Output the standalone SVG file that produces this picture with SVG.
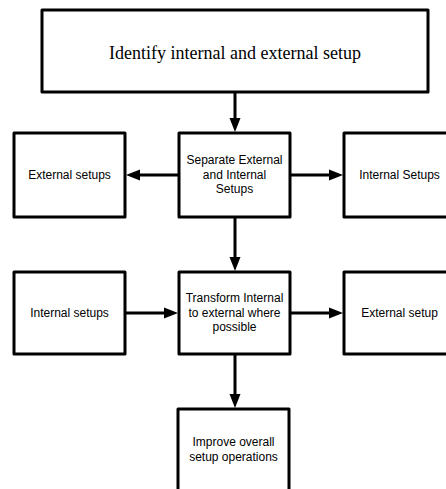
<svg xmlns="http://www.w3.org/2000/svg" width="446" height="489" viewBox="0 0 446 489">
<style>
.box{fill:#fff;stroke:#000;stroke-width:3;stroke-linejoin:round}
.t{font-family:"Liberation Sans",Arial,sans-serif;font-size:12px;fill:#000;text-anchor:middle}
.ts{font-family:"Liberation Serif","Times New Roman",serif;font-size:18px;fill:#000;text-anchor:middle}
.c{stroke:#000;stroke-width:3;fill:none}
</style>
<defs>
<marker id="ah" markerUnits="userSpaceOnUse" markerWidth="14" markerHeight="12" refX="7" refY="6" orient="auto" viewBox="0 0 14 12">
<path d="M0,0.5 L14,6 L0,11.5 z" fill="#000"/>
</marker>
</defs>
<rect width="446" height="489" fill="#fff"/>
<g id="connectors">
<line class="c" x1="235" y1="92" x2="235" y2="125" marker-end="url(#ah)"/>
<line class="c" x1="179" y1="175" x2="133" y2="175" marker-end="url(#ah)"/>
<line class="c" x1="290" y1="175" x2="336" y2="175" marker-end="url(#ah)"/>
<line class="c" x1="235" y1="217" x2="235" y2="264" marker-end="url(#ah)"/>
<line class="c" x1="125" y1="313" x2="171" y2="313" marker-end="url(#ah)"/>
<line class="c" x1="290" y1="313" x2="336" y2="313" marker-end="url(#ah)"/>
<line class="c" x1="235" y1="354" x2="235" y2="401" marker-end="url(#ah)"/>
</g>
<g id="n1">
<rect class="box" x="42" y="10" width="386" height="82"/>
<text class="ts" x="235" y="59">Identify internal and external setup</text>
</g>
<g id="n2">
<rect class="box" x="179" y="133" width="111" height="84"/>
<text class="t" x="234.5" y="164">Separate External</text>
<text class="t" x="234.5" y="178.5">and Internal</text>
<text class="t" x="234.5" y="193">Setups</text>
</g>
<g id="n3">
<rect class="box" x="14" y="133" width="111" height="84"/>
<text class="t" x="69.5" y="179">External setups</text>
</g>
<g id="n4">
<rect class="box" x="344" y="133" width="111" height="84"/>
<text class="t" x="399.5" y="179">Internal Setups</text>
</g>
<g id="n5">
<rect class="box" x="179" y="272" width="111" height="82"/>
<text class="t" x="234.5" y="302">Transform Internal</text>
<text class="t" x="234.5" y="316.5">to external where</text>
<text class="t" x="234.5" y="331">possible</text>
</g>
<g id="n6">
<rect class="box" x="14" y="272" width="111" height="82"/>
<text class="t" x="69.5" y="317">Internal setups</text>
</g>
<g id="n7">
<rect class="box" x="344" y="272" width="111" height="82"/>
<text class="t" x="399.5" y="317">External setup</text>
</g>
<g id="n8">
<rect class="box" x="178" y="409" width="111" height="90"/>
<text class="t" x="233.5" y="446">Improve overall</text>
<text class="t" x="233.5" y="461">setup operations</text>
</g>
</svg>
